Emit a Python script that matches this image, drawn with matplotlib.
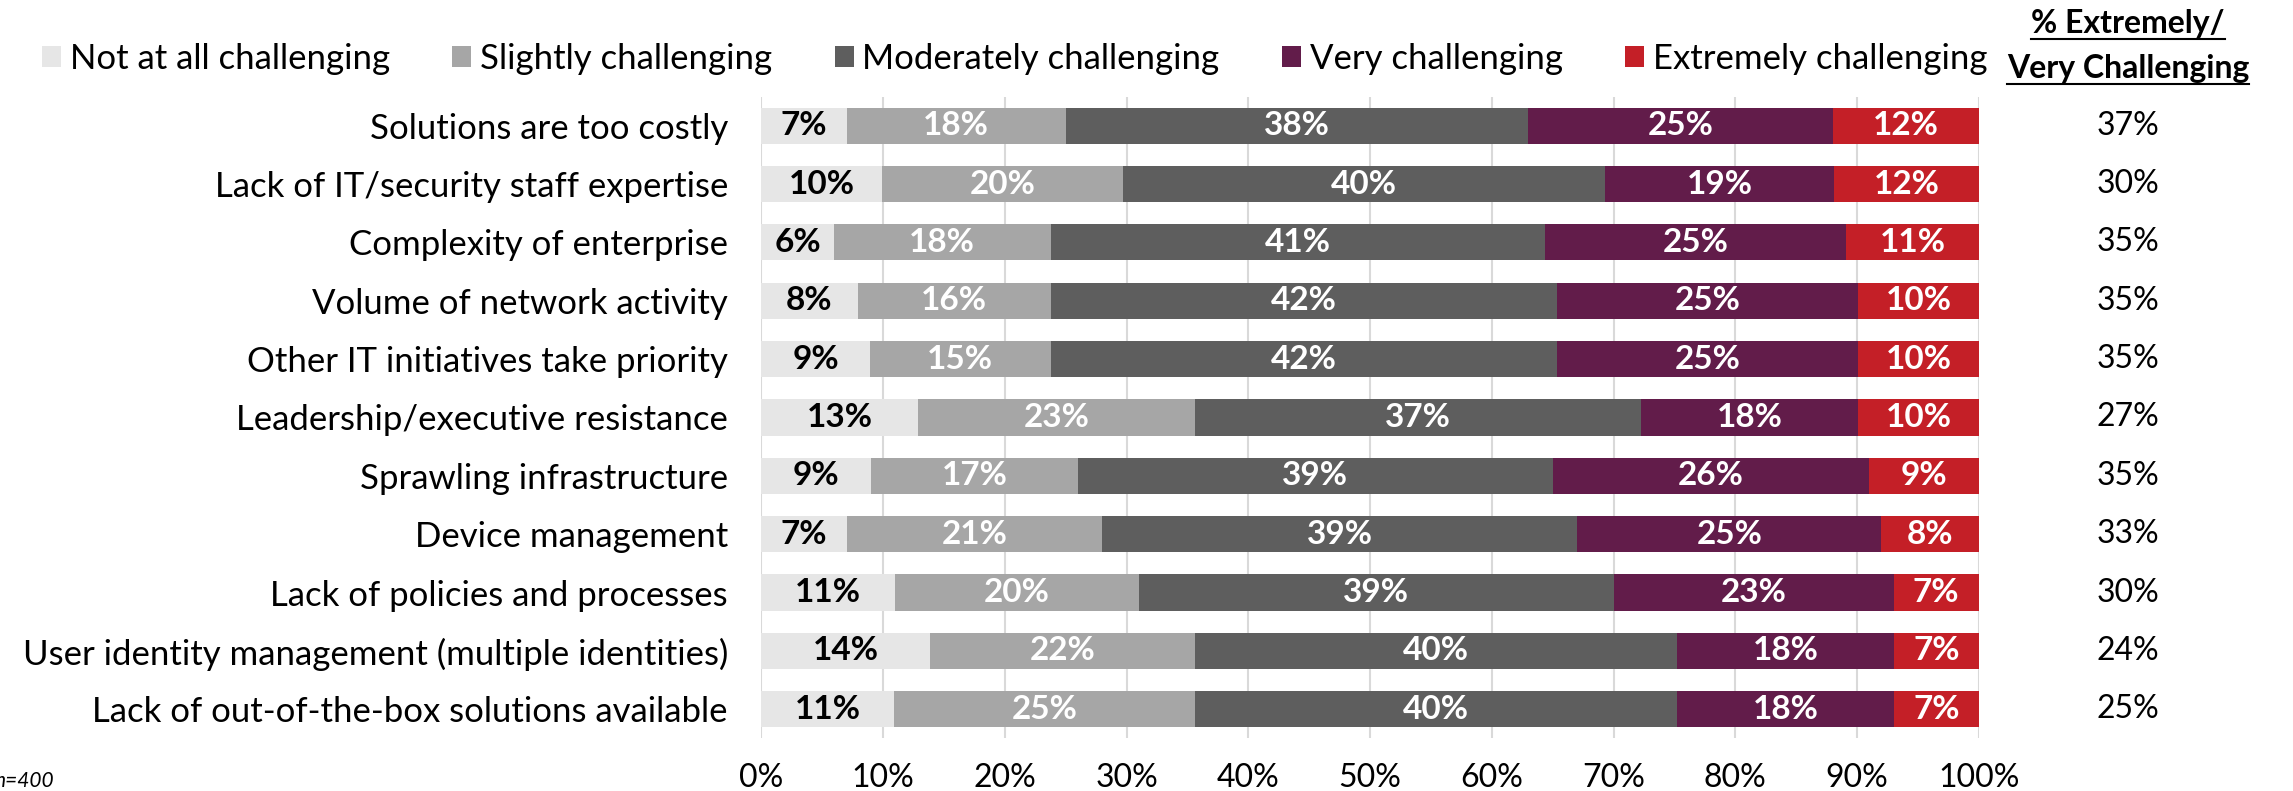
import matplotlib
matplotlib.use("Agg")
import matplotlib.pyplot as plt
import matplotlib.transforms as mtransforms
from matplotlib.patches import Patch
from matplotlib.lines import Line2D

plt.rcParams['font.family'] = ['Lato', 'DejaVu Sans']

categories = [
    "Solutions are too costly",
    "Lack of IT/security staff expertise",
    "Complexity of enterprise",
    "Volume of network activity",
    "Other IT initiatives take priority",
    "Leadership/executive resistance",
    "Sprawling infrastructure",
    "Device management",
    "Lack of policies and processes",
    "User identity management (multiple identities)",
    "Lack of out-of-the-box solutions available",
]
series_names = [
    "Not at all challenging",
    "Slightly challenging",
    "Moderately challenging",
    "Very challenging",
    "Extremely challenging",
]
not_at_all = [7, 10, 6, 8, 9, 13, 9, 7, 11, 14, 11]
slightly = [18, 20, 18, 16, 15, 23, 17, 21, 20, 22, 25]
moderately = [38, 40, 41, 42, 42, 37, 39, 39, 39, 40, 40]
very = [25, 19, 25, 25, 25, 18, 26, 25, 23, 18, 18]
extremely = [12, 12, 11, 10, 10, 10, 9, 8, 7, 7, 7]
top_two = [37, 30, 35, 35, 35, 27, 35, 33, 30, 24, 25]

colors = ["#E6E6E6", "#A6A6A6", "#5E5E5E", "#621C4A", "#C41F27"]
label_colors = ["black", "white", "white", "white", "white"]

series = [not_at_all, slightly, moderately, very, extremely]
totals = [sum(vals) for vals in zip(*series)]

fig = plt.figure(figsize=(22.93, 7.91), dpi=100)
ax = fig.add_axes([0.332, 0.0664, 0.531, 0.8116])

y = list(range(len(categories)))
left = [0.0] * len(categories)
for name, vals, col, lcol in zip(series_names, series, colors, label_colors):
    # 100% stacked: scale each row so the segments fill the bar
    widths = [v / t * 100 for v, t in zip(vals, totals)]
    ax.barh(y, widths, left=left, height=0.62, color=col, label=name, zorder=2)
    for yi, l, w, v in zip(y, left, widths, vals):
        ax.text(l + w / 2, yi, f"{v}%", ha="center", va="center",
                color=lcol, fontsize=24, fontweight="bold", zorder=3)
    left = [l + w for l, w in zip(left, widths)]

ax.set_xlim(0, 100)
ax.set_ylim(len(categories) - 0.5, -0.5)
ax.set_xticks(range(0, 101, 10))
ax.set_xticklabels([f"{t}%" for t in range(0, 101, 10)], fontsize=23)
ax.set_yticks(y)
ax.set_yticklabels(categories, fontsize=25)
ax.tick_params(axis="both", length=0)
ax.tick_params(axis="y", pad=24)
ax.tick_params(axis="x", pad=18)
ax.grid(axis="x", color="#D9D9D9", linewidth=1.5, zorder=0)
ax.set_axisbelow(True)
for s in ax.spines.values():
    s.set_visible(False)

# right-hand column: % extremely/very challenging
trans = mtransforms.blended_transform_factory(fig.transFigure, ax.transData)
for yi, v in zip(y, top_two):
    ax.text(0.928, yi, f"{v}%", transform=trans, ha="center", va="center",
            fontsize=23)

headers = []
headers.append(fig.text(0.928, 0.970, "% Extremely/", ha="center", va="center",
                        fontsize=23, fontweight="bold"))
headers.append(fig.text(0.928, 0.913, "Very Challenging", ha="center", va="center",
                        fontsize=23, fontweight="bold"))

handles = [Patch(facecolor=c) for c in colors]
fig.legend(handles, series_names, loc="center", bbox_to_anchor=(0.4425, 0.926),
           ncol=5, frameon=False, fontsize=25, handlelength=0.55,
           handleheight=0.55, handletextpad=0.25, columnspacing=1.8)

fig.text(-0.0025, 0.0, "n=400", fontsize=15, style="italic", ha="left", va="bottom")

# underline the header lines
fig.canvas.draw()
renderer = fig.canvas.get_renderer()
inv = fig.transFigure.inverted()
for t in headers:
    bb = t.get_window_extent(renderer)
    (x0, y0), (x1, _) = inv.transform([(bb.x0, bb.y0), (bb.x1, bb.y1)])
    fig.add_artist(Line2D([x0, x1], [y0 - 0.001, y0 - 0.001],
                         transform=fig.transFigure, color="black", linewidth=1.5))

fig.savefig("out.png", dpi=100)
